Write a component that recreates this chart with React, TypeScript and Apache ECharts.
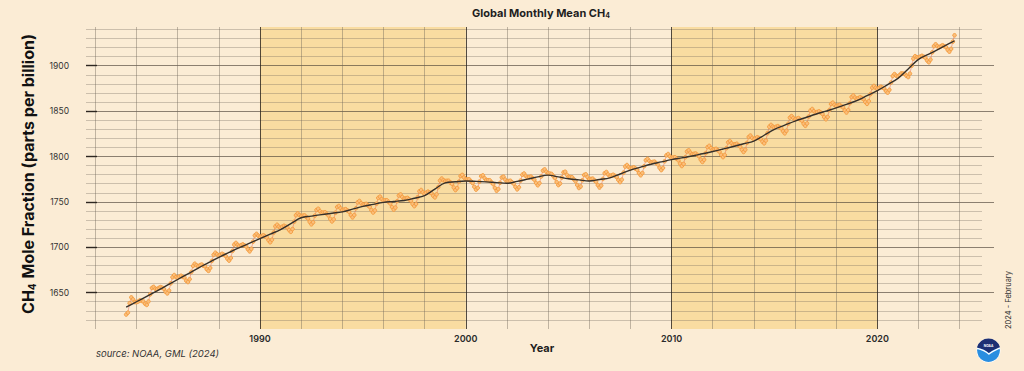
import { useEffect, useRef } from "react";
import * as echarts from "echarts";

// ---------- data ----------
const firstYear = 1983;
const firstMonth = 7; // July 1983
// NOAA global monthly mean CH4 (ppb)
const monthlyMean: number[] = [
  1625.9, 1628.0, 1638.4, 1644.8, 1642.6, 1639.7, // 1983 Jul-Dec
  1639.5, 1640.2, 1641.6, 1641.0, 1640.4, 1637.8, 1636.5, 1640.3, 1648.1, 1655.2, 1656.4, 1654.3, // 1984
  1654.0, 1655.2, 1656.1, 1655.4, 1654.2, 1651.0, 1649.2, 1652.3, 1660.3, 1667.0, 1669.4, 1667.1, // 1985
  1666.5, 1667.8, 1668.6, 1667.3, 1666.7, 1663.2, 1661.7, 1664.8, 1672.8, 1679.4, 1681.9, 1680.2, // 1986
  1679.0, 1680.3, 1681.0, 1679.6, 1679.0, 1675.8, 1674.0, 1677.2, 1685.0, 1691.7, 1694.0, 1692.3, // 1987
  1691.0, 1691.9, 1692.8, 1691.6, 1690.5, 1687.4, 1685.3, 1688.1, 1696.0, 1702.9, 1704.8, 1702.6, // 1988
  1701.5, 1702.3, 1703.2, 1702.0, 1700.8, 1697.7, 1695.5, 1698.3, 1706.2, 1713.0, 1714.8, 1712.7, // 1989
  1711.5, 1712.3, 1713.2, 1712.0, 1710.8, 1707.7, 1705.5, 1708.3, 1716.2, 1723.0, 1724.8, 1722.7, // 1990
  1721.5, 1722.6, 1723.7, 1722.8, 1721.8, 1718.9, 1717.0, 1720.1, 1728.2, 1735.3, 1737.3, 1735.4, // 1991
  1734.5, 1734.8, 1735.1, 1733.4, 1731.7, 1728.0, 1725.3, 1727.5, 1734.8, 1741.1, 1742.4, 1739.7, // 1992
  1738.0, 1738.3, 1738.5, 1736.8, 1735.0, 1731.3, 1728.5, 1730.8, 1738.0, 1744.3, 1745.5, 1742.8, // 1993
  1741.0, 1741.5, 1742.0, 1740.5, 1739.0, 1735.5, 1733.0, 1735.5, 1743.0, 1749.5, 1751.0, 1748.5, // 1994
  1747.0, 1747.4, 1747.8, 1746.1, 1744.5, 1740.9, 1738.3, 1740.6, 1748.0, 1754.4, 1755.8, 1753.1, // 1995
  1751.5, 1751.7, 1751.8, 1750.0, 1748.2, 1744.3, 1741.5, 1743.7, 1750.8, 1757.0, 1758.2, 1755.3, // 1996
  1753.5, 1754.0, 1754.4, 1752.9, 1751.3, 1747.8, 1745.3, 1747.7, 1755.2, 1761.6, 1763.1, 1760.5, // 1997
  1759.0, 1760.2, 1761.3, 1760.5, 1759.7, 1756.8, 1755.0, 1758.2, 1766.3, 1773.5, 1775.7, 1773.8, // 1998
  1773.0, 1773.2, 1773.3, 1771.5, 1769.7, 1765.8, 1763.0, 1765.2, 1772.3, 1778.5, 1779.7, 1776.8, // 1999
  1775.0, 1774.9, 1774.8, 1772.8, 1770.7, 1766.6, 1763.5, 1765.4, 1772.3, 1778.3, 1779.2, 1776.1, // 2000
  1774.0, 1773.9, 1773.8, 1771.6, 1769.5, 1765.4, 1762.3, 1764.1, 1771.0, 1776.9, 1777.8, 1774.6, // 2001
  1772.5, 1772.9, 1773.3, 1771.6, 1770.0, 1766.4, 1763.8, 1766.1, 1773.5, 1779.9, 1781.3, 1778.6, // 2002
  1777.0, 1777.4, 1777.8, 1776.1, 1774.5, 1770.9, 1768.3, 1770.6, 1778.0, 1784.4, 1785.8, 1783.1, // 2003
  1781.5, 1781.2, 1780.8, 1778.5, 1776.2, 1771.8, 1768.5, 1770.2, 1776.8, 1782.5, 1783.2, 1779.8, // 2004
  1777.5, 1777.3, 1777.1, 1774.9, 1772.7, 1768.5, 1765.3, 1767.0, 1773.8, 1779.6, 1780.4, 1777.2, // 2005
  1775.0, 1775.3, 1775.6, 1773.9, 1772.2, 1768.5, 1765.8, 1768.0, 1775.3, 1781.6, 1782.9, 1780.2, // 2006
  1778.5, 1779.2, 1779.9, 1778.6, 1777.3, 1774.0, 1771.8, 1774.5, 1782.2, 1788.9, 1790.6, 1788.3, // 2007
  1787.0, 1787.5, 1788.1, 1786.6, 1785.2, 1781.7, 1779.3, 1781.8, 1789.3, 1795.9, 1797.4, 1795.0, // 2008
  1793.5, 1793.9, 1794.3, 1792.8, 1791.2, 1787.6, 1785.0, 1787.4, 1794.8, 1801.3, 1802.7, 1800.1, // 2009
  1798.5, 1798.8, 1799.2, 1797.5, 1795.8, 1792.2, 1789.5, 1791.8, 1799.2, 1805.5, 1806.8, 1804.2, // 2010
  1802.5, 1802.9, 1803.3, 1801.8, 1800.2, 1796.6, 1794.0, 1796.4, 1803.8, 1810.3, 1811.7, 1809.1, // 2011
  1807.5, 1808.0, 1808.4, 1806.9, 1805.3, 1801.8, 1799.3, 1801.7, 1809.2, 1815.6, 1817.1, 1814.5, // 2012
  1813.0, 1813.5, 1814.0, 1812.5, 1811.0, 1807.5, 1805.0, 1807.5, 1815.0, 1821.5, 1823.0, 1820.5, // 2013
  1819.0, 1820.1, 1821.2, 1820.3, 1819.3, 1816.4, 1814.5, 1817.6, 1825.7, 1832.8, 1834.8, 1832.9, // 2014
  1832.0, 1832.8, 1833.5, 1832.3, 1831.0, 1827.8, 1825.5, 1828.3, 1836.0, 1842.8, 1844.5, 1842.3, // 2015
  1841.0, 1841.6, 1842.3, 1840.9, 1839.5, 1836.1, 1833.8, 1836.4, 1844.0, 1850.6, 1852.3, 1849.9, // 2016
  1848.5, 1849.1, 1849.7, 1848.3, 1846.8, 1843.4, 1841.0, 1843.6, 1851.2, 1857.8, 1859.3, 1856.9, // 2017
  1855.5, 1856.2, 1856.8, 1855.5, 1854.2, 1850.8, 1848.5, 1851.2, 1858.8, 1865.5, 1867.2, 1864.8, // 2018
  1863.5, 1864.4, 1865.3, 1864.3, 1863.2, 1860.1, 1858.0, 1860.9, 1868.8, 1875.8, 1877.7, 1875.6, // 2019
  1874.5, 1875.6, 1876.8, 1875.9, 1875.0, 1872.1, 1870.3, 1873.4, 1881.5, 1888.6, 1890.8, 1888.9, // 2020
  1888.0, 1889.8, 1891.5, 1891.3, 1891.0, 1888.8, 1887.5, 1891.3, 1900.0, 1907.8, 1910.5, 1909.3, // 2021
  1909.0, 1910.0, 1910.9, 1909.9, 1908.8, 1905.8, 1903.8, 1906.7, 1914.7, 1921.6, 1923.6, 1921.5, // 2022
  1920.5, 1921.5, 1922.5, 1921.5, 1920.5, 1917.5, 1915.5, 1918.5, 1926.5, 1933.5, // 2023 Jan-Oct
];

// de-seasonalised trend, every half year from mid-1983
const trendStart = 1983.5;
const trendStep = 0.5;
const trendValues: number[] = [
  1634.0,
  1640.0, 1646.0, 1652.0, 1658.2, 1664.5, 1670.7, 1677.0, 1683.0, 1689.0, 1694.3,
  1699.5, 1704.5, 1709.5, 1714.5, 1719.5, 1726.0, 1732.5, 1734.3, 1736.0, 1737.5,
  1739.0, 1742.0, 1745.0, 1747.3, 1749.5, 1750.5, 1751.5, 1754.0, 1757.0, 1764.0,
  1771.0, 1772.2, 1773.0, 1772.6, 1772.0, 1771.2, 1770.5, 1772.6, 1775.0, 1777.5,
  1779.5, 1777.5, 1775.5, 1774.2, 1773.0, 1774.7, 1776.5, 1780.7, 1785.0, 1788.3,
  1791.5, 1794.0, 1796.5, 1798.5, 1800.5, 1803.0, 1805.5, 1808.2, 1811.0, 1814.0,
  1817.0, 1823.4, 1830.0, 1834.5, 1839.0, 1842.7, 1846.5, 1850.0, 1853.5, 1857.5,
  1861.5, 1867.0, 1872.5, 1879.2, 1886.0, 1896.5, 1907.0, 1912.7, 1918.5, 1924.5,
];
const trendLastDate = 2023.75;
const trendLastValue = 1927.5;

const decadeBands: [number, number][] = [
  [1990, 2000],
  [2010, 2020],
];

// ---------- styles ----------
const BG = "#fbecd5";
const BAND = "#f9dca1";
const MINOR = "rgba(110,100,88,0.33)";
const MAJOR = "rgba(70,60,50,0.62)";
const VMINOR = "rgba(110,100,88,0.42)";
const VMAJOR = "rgba(40,34,28,0.8)";
const FONT = "Inter, 'Noto Sans', sans-serif";

const GULL_TOP =
  "M-11.6,-3 A12,12 0 0,1 11.6,-3 C8,-1.6 4,-0.6 0.4,2.6 C-3,-0.6 -7,-1.8 -11.6,-3 Z";
const GULL_LINE = "M-11.4,-2.2 C-7,-1.2 -3,0.4 0.4,3.6 C4,0.4 8,-0.9 11.4,-2.6";

echarts.graphic.registerShape("noaaTop", echarts.graphic.extendPath(GULL_TOP, {}) as any);
echarts.graphic.registerShape("noaaGull", echarts.graphic.extendPath(GULL_LINE, {}) as any);

export default function App() {
  const ref = useRef<HTMLDivElement>(null);

  useEffect(() => {
    document.body.style.margin = "0";
    document.body.style.background = BG;
    const chart = echarts.init(ref.current!, null, { renderer: "svg" });

    const points = monthlyMean.map((v, i) => {
      const m = firstMonth - 1 + i;
      const date = firstYear + Math.floor(m / 12) + (m % 12) / 12;
      return [date, v];
    });
    const trend = trendValues.map((v, i) => [trendStart + i * trendStep, v]);
    trend.push([trendLastDate, trendLastValue]);

    const option: any = {
      animation: false,
      backgroundColor: BG,
      grid: [
        { left: 86, top: 29.4, width: 896, height: 290.5 },
        { left: 95.3, top: 27, width: 864.4, height: 302 },
        { left: 86, top: 65.7, width: 908, height: 227 },
      ],
      xAxis: [
        {
          gridIndex: 0,
          type: "value",
          min: 1981.548,
          max: 2025.085,
          show: false,
          splitLine: { show: false },
        },
        {
          gridIndex: 1,
          type: "value",
          min: 1982,
          max: 2024,
          interval: 2,
          z: 2,
          axisLine: { show: false },
          axisTick: { show: false },
          axisLabel: {
            show: true,
            formatter: (v: number) => (v % 10 === 0 ? String(v) : ""),
            margin: 5,
            fontSize: 9,
            fontWeight: 600,
            fontFamily: FONT,
            color: "#2a2a2a",
          },
          splitLine: {
            show: true,
            lineStyle: { color: [VMINOR, VMINOR, VMINOR, VMINOR, VMAJOR], width: 1 },
          },
        },
        { gridIndex: 2, type: "value", min: 0, max: 1, show: false },
      ],
      yAxis: [
        {
          gridIndex: 0,
          type: "value",
          min: 1620,
          max: 1940,
          interval: 10,
          z: 2,
          axisLine: { show: false },
          axisTick: { show: false },
          axisLabel: { show: false },
          splitLine: {
            show: true,
            lineStyle: { color: [MINOR, MINOR, MINOR, "rgba(0,0,0,0)", MINOR], width: 1 },
          },
        },
        { gridIndex: 1, type: "value", min: 0, max: 1, show: false },
        {
          gridIndex: 2,
          type: "value",
          min: 1650,
          max: 1900,
          interval: 50,
          z: 2,
          axisLine: { show: false },
          axisTick: {
            show: true,
            inside: true,
            length: 11,
            lineStyle: { color: "#2d2620", width: 1.4 },
          },
          axisLabel: {
            show: true,
            margin: 17,
            formatter: (v: number) => String(v),
            fontSize: 8.5,
            fontFamily: FONT,
            color: "#333",
          },
          splitLine: { show: true, lineStyle: { color: MAJOR, width: 1 } },
        },
      ],
      series: [
        {
          name: "bands",
          type: "line",
          xAxisIndex: 1,
          yAxisIndex: 1,
          data: [[1982, 0]],
          showSymbol: false,
          symbol: "none",
          lineStyle: { opacity: 0 },
          silent: true,
          markArea: {
            z: 1,
            silent: true,
            itemStyle: { color: BAND },
            data: decadeBands.map(([a, b]) => [{ xAxis: a }, { xAxis: b }]),
          },
        },
        {
          name: "Monthly mean",
          type: "line",
          xAxisIndex: 0,
          yAxisIndex: 0,
          z: 3,
          data: points,
          symbol: "circle",
          symbolSize: 3.6,
          showSymbol: true,
          showAllSymbol: true,
          itemStyle: { color: "#fbbf7c", borderColor: "#f39a3c", borderWidth: 0.9 },
          lineStyle: { color: "#e0675a", width: 0.5 },
        },
        {
          name: "Trend",
          type: "line",
          xAxisIndex: 0,
          yAxisIndex: 0,
          z: 4,
          data: trend,
          smooth: 0.4,
          symbol: "none",
          lineStyle: { color: "#35302b", width: 1.4 },
        },
      ],
      graphic: [
        {
          type: "text",
          x: 541,
          y: 12.5,
          style: {
            text: "Global Monthly Mean CH{s|4}",
            fontFamily: FONT,
            fontSize: 11,
            fontWeight: "bold",
            fill: "#1e1e1e",
            textAlign: "center",
            textVerticalAlign: "middle",
            rich: {
              s: {
                fontFamily: FONT,
                fontSize: 7,
                fontWeight: "bold",
                fill: "#1e1e1e",
                verticalAlign: "bottom",
                padding: [5, 0, 0, 0],
              },
            },
          },
        },
        {
          type: "text",
          x: 28,
          y: 174,
          rotation: Math.PI / 2,
          style: {
            text: "CH{s|4} Mole Fraction (parts per billion)",
            fontFamily: FONT,
            fontSize: 16,
            fontWeight: "bold",
            fill: "#111",
            textAlign: "center",
            textVerticalAlign: "middle",
            rich: {
              s: {
                fontFamily: FONT,
                fontSize: 10,
                fontWeight: "bold",
                fill: "#111",
                verticalAlign: "bottom",
                padding: [7, 1, 0, 0],
              },
            },
          },
        },
        {
          type: "text",
          x: 542,
          y: 347.7,
          style: {
            text: "Year",
            fontFamily: FONT,
            fontSize: 11,
            fontWeight: "bold",
            fill: "#1e1e1e",
            textAlign: "center",
            textVerticalAlign: "middle",
          },
        },
        {
          type: "text",
          x: 96,
          y: 353,
          style: {
            text: "source: NOAA, GML (2024)",
            fontFamily: FONT,
            fontSize: 9.5,
            fontStyle: "italic",
            fill: "#333",
            textAlign: "left",
            textVerticalAlign: "middle",
          },
        },
        {
          type: "text",
          x: 1008,
          y: 300,
          rotation: Math.PI / 2,
          style: {
            text: "2024 - February",
            fontFamily: FONT,
            fontSize: 7.5,
            fill: "#333",
            textAlign: "center",
            textVerticalAlign: "middle",
          },
        },
        {
          type: "group",
          x: 988.5,
          y: 350.5,
          children: [
            { type: "circle", shape: { cx: 0, cy: 0, r: 12 }, style: { fill: "#ffffff" } },
            { type: "circle", shape: { cx: 0, cy: 0, r: 11.4 }, style: { fill: "#2a8ee0" } },
            { type: "noaaTop", style: { fill: "#1d2f73" } },
            { type: "noaaGull", style: { fill: "none", stroke: "#ffffff", lineWidth: 1.3 } },
            {
              type: "text",
              x: 0,
              y: -5,
              style: {
                text: "NOAA",
                fontFamily: FONT,
                fontSize: 3.2,
                fontWeight: "bold",
                fill: "#ffffff",
                textAlign: "center",
                textVerticalAlign: "middle",
              },
            },
          ],
        },
      ],
    };

    chart.setOption(option);
    return () => chart.dispose();
  }, []);

  return <div ref={ref} style={{ width: 1024, height: 371, background: BG }} />;
}
